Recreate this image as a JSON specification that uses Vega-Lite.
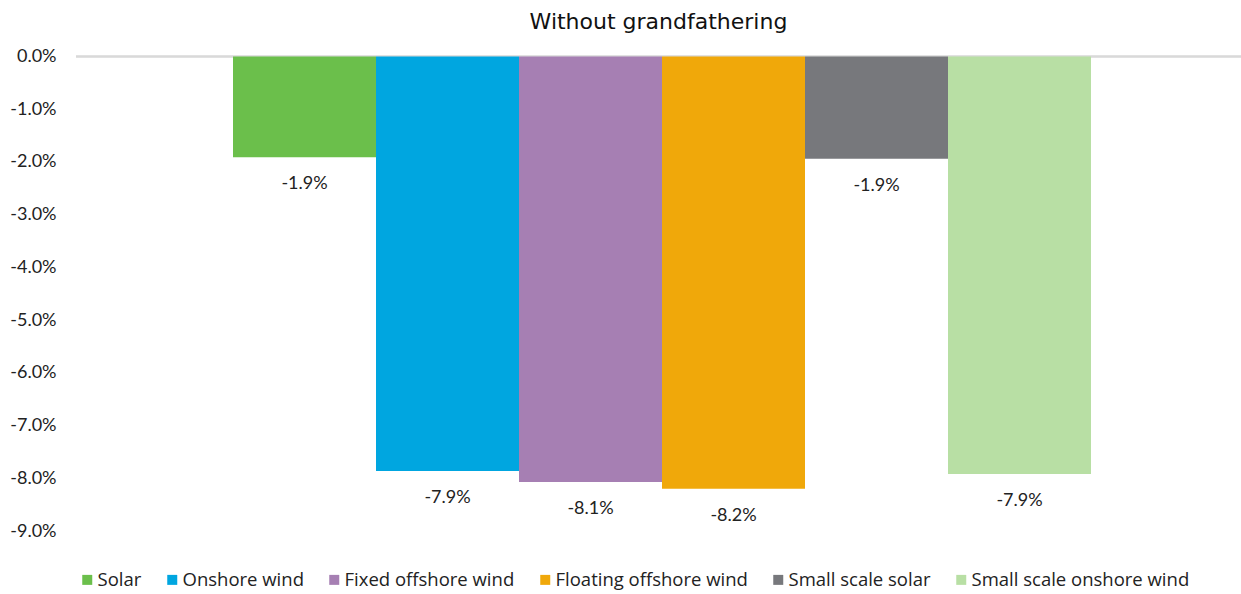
{
  "$schema": "https://vega.github.io/schema/vega-lite/v6.json",
  "width": 1165,
  "height": 474.5,
  "autosize": {"type": "none"},
  "padding": {"left": 76, "top": 56.5, "right": 0, "bottom": 63},
  "background": "white",
  "config": {
    "font": "Lato",
    "view": {"stroke": null},
    "locale": {
      "number": {
        "decimal": ".",
        "thousands": ",",
        "grouping": [3],
        "currency": ["$", ""],
        "minus": "-"
      }
    }
  },
  "title": {
    "text": "Without grandfathering",
    "font": "DejaVu Sans",
    "fontSize": 22,
    "fontWeight": "normal",
    "color": "#111111",
    "anchor": "middle",
    "offset": 14,
    "limit": 600
  },
  "data": {
    "values": [
      {"tech": "Solar", "value": -0.0191},
      {"tech": "Onshore wind", "value": -0.0786},
      {"tech": "Fixed offshore wind", "value": -0.0807},
      {"tech": "Floating offshore wind", "value": -0.0820},
      {"tech": "Small scale solar", "value": -0.0194},
      {"tech": "Small scale onshore wind", "value": -0.0792}
    ]
  },
  "layer": [
    {
      "mark": {"type": "rule", "color": "#d9d9d9", "strokeWidth": 1.5},
      "encoding": {"y": {"datum": 0, "type": "quantitative"}}
    },
    {
      "mark": {"type": "bar"},
      "encoding": {
        "x": {
          "field": "tech",
          "type": "nominal",
          "sort": null,
          "axis": null,
          "scale": {"paddingInner": 0, "paddingOuter": 1, "range": [14, 1158]}
        },
        "y": {
          "field": "value",
          "type": "quantitative",
          "scale": {"domain": [-0.09, 0], "nice": false, "zero": false},
          "axis": {
            "values": [0, -0.01, -0.02, -0.03, -0.04, -0.05, -0.06, -0.07, -0.08, -0.09],
            "format": ".1%",
            "title": null,
            "grid": false,
            "domain": false,
            "ticks": false,
            "labelPadding": 20,
            "labelFontSize": 18,
            "labelColor": "#222222",
            "labelFont": "Lato"
          }
        },
        "color": {
          "field": "tech",
          "type": "nominal",
          "sort": null,
          "scale": {
            "domain": ["Solar", "Onshore wind", "Fixed offshore wind", "Floating offshore wind", "Small scale solar", "Small scale onshore wind"],
            "range": ["#6bbf4b", "#00a6e0", "#a67fb3", "#f0a80a", "#77787c", "#b8dfa4"]
          },
          "legend": {
            "title": null,
            "orient": "none",
            "legendX": 2,
            "legendY": 514,
            "direction": "horizontal",
            "columns": 6,
            "symbolType": "square",
            "symbolSize": 100,
            "symbolStrokeWidth": 0,
            "labelFont": "Open Sans",
            "labelFontSize": 18.5,
            "labelColor": "#222222",
            "labelOffset": 1,
            "columnPadding": 21,
            "labelLimit": 400
          }
        }
      }
    },
    {
      "mark": {"type": "text", "baseline": "middle", "dy": 27, "fontSize": 18, "color": "#222222"},
      "encoding": {
        "x": {"field": "tech", "type": "nominal", "sort": null},
        "y": {"field": "value", "type": "quantitative"},
        "text": {"field": "value", "type": "quantitative", "format": ".1%"}
      }
    }
  ]
}
